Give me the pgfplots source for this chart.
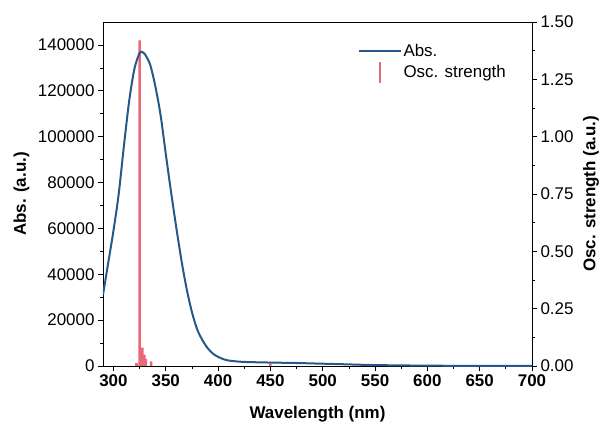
\documentclass[border=0pt]{standalone}
\usepackage{pgfplots}
\pgfplotsset{compat=1.18}
\usepackage{fontspec}
\setmainfont{Liberation Sans}
\definecolor{abscol}{RGB}{38,88,138}
\definecolor{stickcol}{RGB}{232,105,118}
\pgfplotsset{
  abslegend/.style={legend image code/.code={\draw[##1] (0bp,0bp) -- (42bp,0bp);}},
  sticklegend/.style={legend image code/.code={\draw[##1] (21bp,-11bp) -- (21bp,10bp);}},
}
\begin{document}
\begin{tikzpicture}
\pgfplotsset{
  every axis/.append style={
    scale only axis, width=429bp, height=344bp,
    xmin=290, xmax=700,
    tick align=outside,
    major tick length=5bp, minor tick length=3bp,
    tick style={black, line width=0.7bp},
    axis line style={line width=0.9bp},
    font=\fontsize{17}{19}\selectfont,
    /pgf/number format/assume math mode=true,
    label style={font=\fontsize{17}{19}\selectfont\bfseries},
  }
}
% oscillator strength (right axis)
\begin{axis}[
  axis x line=none,
  axis y line*=right,
  ymin=0, ymax=1.5,
  ytick={0,0.25,0.5,0.75,1,1.25,1.5},
  minor y tick num=1,
  yticklabel style={/pgf/number format/.cd,fixed,fixed zerofill,precision=2,assume math mode=true},
  ylabel={Osc. strength (a.u.)},
  ylabel style={at={(axis description cs:1.1375,0.5)}, anchor=center},
]
\addplot[ybar, bar width=2.6bp, fill=stickcol, draw=none, forget plot] coordinates {
  (325,1.42) (327.5,0.08) (329.5,0.05) (331,0.03) (336,0.02) (322,0.012) (450,0.01)
};
\end{axis}
% absorbance (left axis)
\begin{axis}[
  xtick={300,350,400,450,500,550,600,650,700},
  minor x tick num=1,
  ymin=0, ymax=150000,
  ytick={0,20000,40000,60000,80000,100000,120000,140000},
  minor y tick num=1,
  xtick pos=bottom, ytick pos=left,
  scaled y ticks=false,
  yticklabel style={/pgf/number format/.cd,fixed,precision=0,1000 sep={},assume math mode=true},
  xticklabel style={font=\fontsize{17}{19}\selectfont\bfseries,
    /pgf/number format/.cd,fixed,precision=0,1000 sep={},assume math mode=true},
  xlabel={Wavelength (nm)},
  ylabel={Abs. (a.u.)},
  xlabel style={at={(axis description cs:0.5,-0.14)}, anchor=center},
  ylabel style={at={(axis description cs:-0.19,0.5)}, anchor=center},
  legend style={at={(axis description cs:0.594,0.94)}, anchor=north west, draw=none, fill=none,
    font=\fontsize{17}{19}\selectfont, row sep=1bp, inner sep=0pt,
    nodes={inner sep=1.5bp}},
  legend cell align=left,
]
\coordinate (sw) at (rel axis cs:0,0);
\addplot[color=abscol, line width=2bp, smooth, tension=0.5, abslegend] coordinates {
  (290,31000) (295,45000) (300,59000) (305,75000) (310,96000) (315,115500)
  (320,129500) (325,136500) (328,136800) (330,136000) (335,131500) (340,122000)
  (345,109500) (350,92500) (355,76000) (360,60500) (365,46000) (370,33500)
  (375,23500) (380,16000) (385,11300) (390,7800) (395,5400) (400,4000)
  (405,3000) (410,2400) (420,1900) (430,1700) (450,1500) (475,1300)
  (500,1000) (525,700) (550,400) (600,150) (650,50) (700,0)
};
\addlegendentry{Abs.}
\addlegendimage{color=stickcol, line width=2.2bp, sticklegend}
\addlegendentry{Osc. strength}
\end{axis}
\path[use as bounding box] (sw) ++(-103bp,-62bp) rectangle ++(605bp,428bp);
\end{tikzpicture}
\end{document}
